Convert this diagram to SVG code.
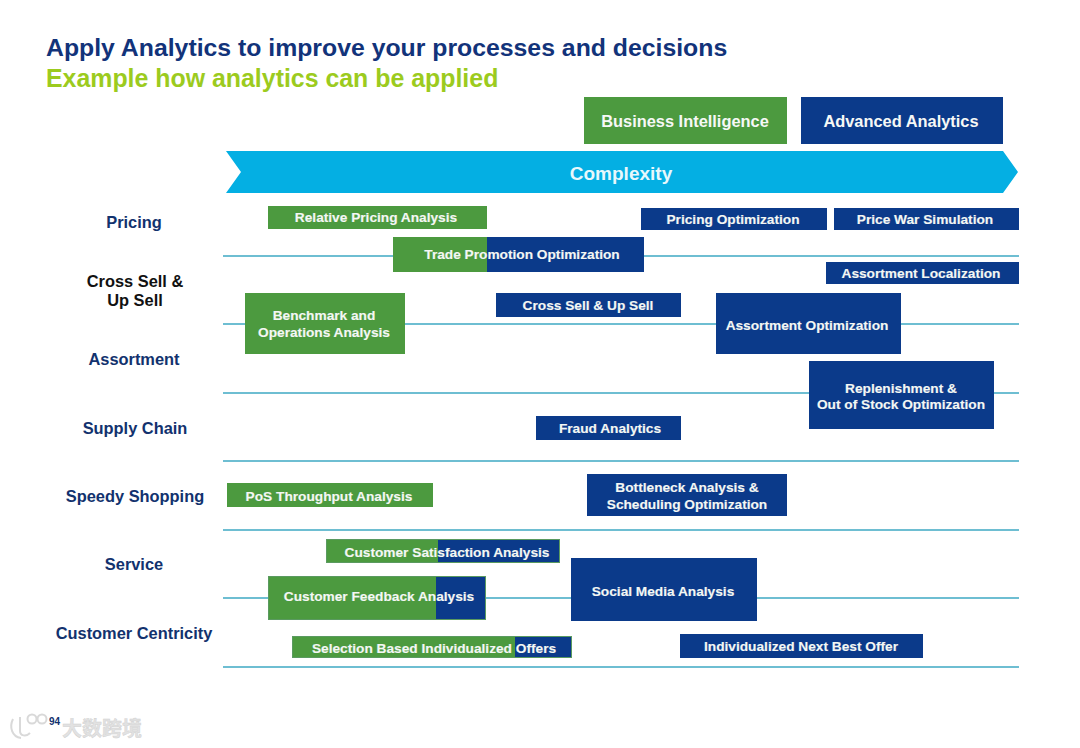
<svg xmlns="http://www.w3.org/2000/svg" width="1080" height="748" viewBox="0 0 1080 748">
<style>
text{font-family:"Liberation Sans",Arial,sans-serif;font-weight:700}
.g{fill:#4c9a3f}.b{fill:#0b3a8a}
.t{fill:#f4f7f4;font-size:13.7px;text-anchor:middle;stroke:#f4f7f4;stroke-width:.15px}
.r{fill:#12326e;font-size:16.4px;text-anchor:middle}
.l{stroke:#3fa9c4;stroke-width:1.6;fill:none}
.h{fill:#f6f8f6;font-size:16.4px;text-anchor:middle}
.o{fill:none;stroke:#5a9a60;stroke-width:1}
</style>
<rect width="1080" height="748" fill="#fff"/>
<text x="46" y="56" font-size="24.8" fill="#12337a">Apply Analytics to improve your processes and decisions</text>
<text x="46" y="87" font-size="24.9" fill="#9ccb1e">Example how analytics can be applied</text>
<g id="connectors">
<path class="l" d="M223 256H1019M223 324H1019M223 393H1019M223 461H1019M223 530H1019M223 598H1019M223 667H1019"/>
</g>
<g id="legend-bi"><rect class="g" x="584" y="97" width="203" height="47"/><text class="h" x="685" y="127">Business Intelligence</text></g>
<g id="legend-aa"><rect class="b" x="801" y="97" width="202" height="47"/><text class="h" x="901" y="127">Advanced Analytics</text></g>
<g id="complexity"><polygon points="226,151 1003,151 1018,172 1003,193 226,193 241,172" fill="#04afe3"/><text x="621" y="180" font-size="19" fill="#e8f8fc" text-anchor="middle">Complexity</text></g>
<g id="row-pricing"><text class="r" x="134" y="228">Pricing</text></g>
<g id="row-cross"><text class="r" x="135" y="287" style="fill:#111">Cross Sell &amp;</text><text class="r" x="135" y="306" style="fill:#111">Up Sell</text></g>
<g id="row-assortment"><text class="r" x="134" y="365">Assortment</text></g>
<g id="row-supply"><text class="r" x="135" y="434">Supply Chain</text></g>
<g id="row-speedy"><text class="r" x="135" y="502">Speedy Shopping</text></g>
<g id="row-service"><text class="r" x="134" y="570">Service</text></g>
<g id="row-centricity"><text class="r" x="134" y="639">Customer Centricity</text></g>
<g id="n-relative"><rect class="g" x="268" y="206" width="219" height="23"/><text class="t" x="376" y="222">Relative Pricing Analysis</text></g>
<g id="n-pricing-opt"><rect class="b" x="641" y="208" width="186" height="22"/><text class="t" x="733" y="224">Pricing Optimization</text></g>
<g id="n-price-war"><rect class="b" x="834" y="208" width="185" height="22"/><text class="t" x="925" y="224">Price War Simulation</text></g>
<g id="n-trade"><rect class="g" x="393" y="237" width="94" height="35"/><rect class="b" x="487" y="237" width="157" height="35"/><text class="t" x="522" y="259">Trade Promotion Optimization</text></g>
<g id="n-localization"><rect class="b" x="826" y="262" width="193" height="22"/><text class="t" x="921" y="278">Assortment Localization</text></g>
<g id="n-benchmark"><rect class="g" x="245" y="293" width="160" height="61"/><text class="t" x="324" y="320">Benchmark and</text><text class="t" x="324" y="337">Operations Analysis</text></g>
<g id="n-cross"><rect class="b" x="496" y="293" width="185" height="24"/><text class="t" x="588" y="310">Cross Sell &amp; Up Sell</text></g>
<g id="n-assort-opt"><rect class="b" x="716" y="293" width="185" height="61"/><text class="t" x="807" y="330">Assortment Optimization</text></g>
<g id="n-replenish"><rect class="b" x="809" y="361" width="185" height="68"/><text class="t" x="901" y="393">Replenishment &amp;</text><text class="t" x="901" y="409">Out of Stock Optimization</text></g>
<g id="n-fraud"><rect class="b" x="536" y="416" width="145" height="24"/><text class="t" x="610" y="433">Fraud Analytics</text></g>
<g id="n-pos"><rect class="g" x="227" y="483" width="206" height="24"/><text class="t" x="329" y="501">PoS Throughput Analysis</text></g>
<g id="n-bottleneck"><rect class="b" x="587" y="474" width="200" height="42"/><text class="t" x="687" y="492">Bottleneck Analysis &amp;</text><text class="t" x="687" y="509">Scheduling Optimization</text></g>
<g id="n-satisfaction"><rect class="g" x="326" y="539" width="112" height="24"/><rect class="b" x="438" y="539" width="122" height="24"/><rect class="o" x="326.5" y="539.5" width="233" height="23"/><text class="t" x="447" y="557">Customer Satisfaction Analysis</text></g>
<g id="n-feedback"><rect class="g" x="268" y="576" width="168" height="44"/><rect class="b" x="436" y="576" width="50" height="44"/><rect class="o" x="268.5" y="576.5" width="217" height="43"/><text class="t" x="379" y="601">Customer Feedback Analysis</text></g>
<g id="n-social"><rect class="b" x="571" y="558" width="186" height="63"/><text class="t" x="663" y="596">Social Media Analysis</text></g>
<g id="n-selection"><rect class="g" x="292" y="636" width="223" height="22"/><rect class="b" x="515" y="636" width="57" height="22"/><rect class="o" x="292.5" y="636.5" width="279" height="21"/><text class="t" x="434" y="653">Selection Based Individualized Offers</text></g>
<g id="n-next"><rect class="b" x="680" y="634" width="243" height="24"/><text class="t" x="801" y="651">Individualized Next Best Offer</text></g>
<text x="49" y="725" font-size="10" fill="#12326e">94</text>
<g id="watermark" fill="none" stroke="#d9d9d9" stroke-width="2"><path d="M13 719C9 727 12 737 21 738M20 717V731C20 736 26 737 30 733"/><circle cx="32" cy="719" r="4.5"/><circle cx="42" cy="719" r="4.5"/></g>
<text x="62" y="736" font-size="20" fill="#e2e2e2" stroke="#cfcfcf" stroke-width=".4" style="font-family:'Noto Sans CJK SC',sans-serif;font-weight:700">大数跨境</text>
</svg>
